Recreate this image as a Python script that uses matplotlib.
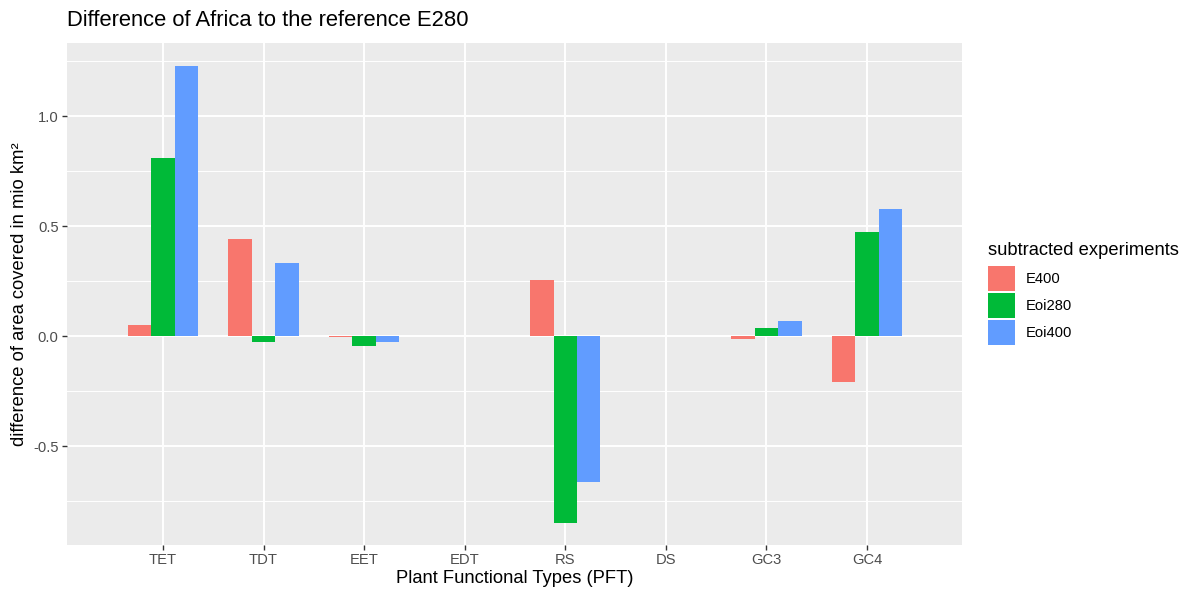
import matplotlib
matplotlib.use("Agg")
import matplotlib.pyplot as plt
from matplotlib.patches import Patch
import numpy as np

categories = ["TET", "TDT", "EET", "EDT", "RS", "DS", "GC3", "GC4"]
series_names = ["E400", "Eoi280", "Eoi400"]
e400 = [0.049, 0.441, -0.004, 0.0, 0.255, 0.0, -0.015, -0.207]
eoi280 = [0.809, -0.026, -0.046, 0.0, -0.850, 0.0, 0.035, 0.474]
eoi400 = [1.227, 0.332, -0.028, 0.0, -0.664, 0.0, 0.066, 0.578]
colors = ["#F8766D", "#00BA38", "#619CFF"]
yticks = [-0.5, 0.0, 0.5, 1.0]
yticklabels = ["-0.5", "0.0", "0.5", "1.0"]

plt.rcParams['font.family'] = ['Liberation Sans', 'DejaVu Sans']

W, H = 1181, 594
fig = plt.figure(figsize=(W/100, H/100), dpi=100)
ax = fig.add_axes([67/W, 1-545/H, (962-67)/W, (545-43)/H])
ax.set_facecolor("#EBEBEB")

x = np.arange(len(categories))
bw = 0.7/3
for i, (vals, c) in enumerate(zip([e400, eoi280, eoi400], colors)):
    ax.bar(x + (i-1)*bw, vals, width=bw, color=c, zorder=3, linewidth=0)

ax.set_xlim(-0.955, 7.945)
ax.set_ylim(-0.95, 1.332)
ax.set_xticks(x)
ax.set_xticklabels(categories)
ax.set_yticks(yticks)
ax.set_yticklabels(yticklabels)
ax.set_yticks([-0.75, -0.25, 0.25, 0.75, 1.25], minor=True)
ax.grid(which="major", color="white", linewidth=1.4, zorder=1)
ax.grid(which="minor", axis="y", color="white", linewidth=0.7, zorder=1)
ax.tick_params(which="major", length=3.5, width=1.0, color="#333333",
               labelcolor="#4D4D4D", labelsize=10.6, pad=2.5)
ax.tick_params(which="minor", length=0)
for s in ax.spines.values():
    s.set_visible(False)

ax.set_xlabel("Plant Functional Types (PFT)", fontsize=13.2, color="black", labelpad=2)
ax.set_ylabel("difference of area covered in mio km²", fontsize=13.2, color="black", labelpad=4)
fig.text(67/W, 1-21/H, "Difference of Africa to the reference E280", fontsize=15.8,
         ha="left", va="center")

handles = [Patch(facecolor=c, edgecolor="none", label=n) for c, n in zip(colors, series_names)]
leg = fig.legend(handles=handles, title="subtracted experiments", loc="upper left",
                 bbox_to_anchor=(985/W, 1-239/H), frameon=False, fontsize=10.6,
                 title_fontsize=13.2, handlelength=1.85, handleheight=2.25,
                 handletextpad=0.75, labelspacing=0.12, borderaxespad=0,
                 borderpad=0.2)
leg._legend_box.align = "left"
leg._legend_box.sep = 5

fig.savefig("out.png", dpi=100)
